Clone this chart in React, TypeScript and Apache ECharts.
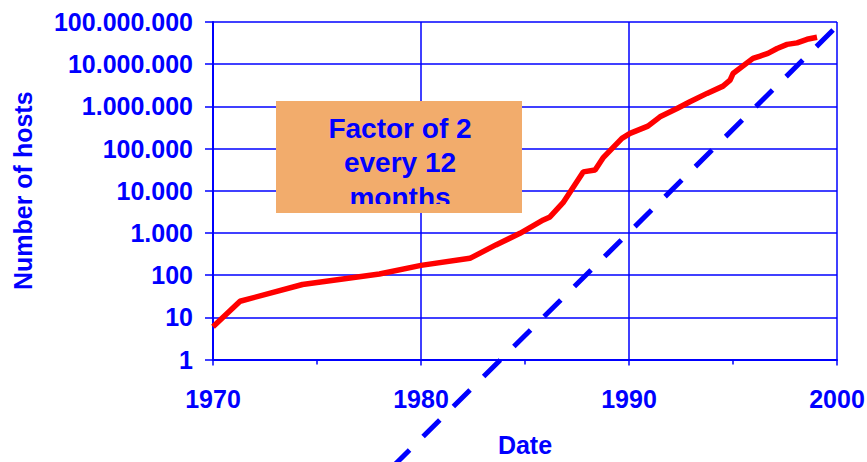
import React, { useEffect, useRef } from "react";
import * as echarts from "echarts";

// Internet host count (red line)
const hostYears = [1970.0, 1971.3, 1974.3, 1978.0, 1980.0, 1982.35, 1983.6, 1984.76, 1985.88, 1986.2, 1986.83, 1987.8, 1988.37, 1988.75, 1989.66, 1990.05, 1990.91, 1991.49, 1992.31, 1992.93, 1993.75, 1994.52, 1994.86, 1995.0, 1995.96, 1996.3, 1996.68, 1997.12, 1997.6, 1998.08, 1998.56, 1999.04];
const hostCounts = [6, 24, 60, 106, 170, 250, 520, 980, 2030, 2400, 5200, 28000, 31000, 60000, 174000, 229000, 340000, 565000, 890000, 1290000, 2030000, 3020000, 4200000, 6000000, 13700000, 15600000, 18100000, 23600000, 29500000, 32000000, 38900000, 43600000];

// Dashed trend line (top end first, extends below the axis)
const trendYears = [1999.81, 1978.55];
const trendValues = [64300000, 0.0026];

const yTickValues = [1, 10, 100, 1000, 10000, 100000, 1000000, 10000000, 100000000];
const xTickLabels = ["1970", "1980", "1990", "2000"];

const boxLines = ["Factor of 2", "every 12", "months"];

const BLUE = "#0000ff";
const FONT = "'Liberation Sans', Arial, sans-serif";

function fmtDots(v: number): string {
  const n = Math.round(v);
  return String(n).replace(/\B(?=(\d{3})+(?!\d))/g, ".");
}

export default function App() {
  const ref = useRef<HTMLDivElement>(null);
  useEffect(() => {
    if (!ref.current) return;
    const chart = echarts.init(ref.current, undefined, { renderer: "svg" });
    const hostData = hostYears.map((y, i) => [y, hostCounts[i]]);
    const trendData = trendYears.map((y, i) => [y, trendValues[i]]);
    const lineY = [128, 162.5, 197];
    chart.setOption({
      animation: false,
      backgroundColor: "#ffffff",
      textStyle: { fontFamily: FONT },
      grid: { left: 213, right: 30, top: 22, bottom: 102.5, containLabel: false, outerBoundsMode: "none" },
      xAxis: {
        type: "value",
        min: 1970,
        max: 2000,
        interval: 10,
        name: "Date",
        nameLocation: "middle",
        nameGap: 73,
        nameTextStyle: { color: BLUE, fontSize: 25, fontWeight: "bold", fontFamily: FONT },
        axisLine: { show: true, onZero: false, lineStyle: { color: BLUE, width: 2 } },
        axisTick: { show: true, length: 6, lineStyle: { color: BLUE, width: 1.5 } },
        minorTick: { show: true, splitNumber: 2, length: 5, lineStyle: { color: BLUE, width: 1.5 } },
        axisLabel: {
          color: BLUE,
          fontSize: 25,
          fontWeight: "bold",
          fontFamily: FONT,
          margin: 27,
          formatter: (v: number) => {
            const s = String(Math.round(v));
            return xTickLabels.indexOf(s) >= 0 ? s : "";
          },
        },
        splitLine: { show: true, lineStyle: { color: BLUE, width: 1.5 } },
      },
      yAxis: {
        type: "log",
        logBase: 10,
        min: yTickValues[0],
        max: yTickValues[yTickValues.length - 1],
        name: "Number of hosts",
        nameLocation: "middle",
        nameRotate: 90,
        nameGap: 178,
        nameTextStyle: { color: BLUE, fontSize: 25, fontWeight: "bold", fontFamily: FONT },
        axisLine: { show: true, lineStyle: { color: BLUE, width: 2 } },
        axisTick: { show: true, length: 8, lineStyle: { color: BLUE, width: 1.5 } },
        minorTick: { show: false },
        axisLabel: {
          color: BLUE,
          fontSize: 25,
          fontWeight: "bold",
          fontFamily: FONT,
          margin: 20,
          formatter: (v: number) => fmtDots(v),
        },
        splitLine: { show: true, lineStyle: { color: BLUE, width: 1.5 } },
      },
      series: [
        {
          type: "line",
          data: hostData,
          symbol: "none",
          lineStyle: { color: "#ff0000", width: 5.5 },
          z: 3,
        },
        {
          type: "line",
          data: trendData,
          symbol: "none",
          clip: false,
          lineStyle: { color: BLUE, width: 5, type: [23.5, 19.1], cap: "butt" },
          z: 4,
        },
      ],
      graphic: [
        {
          type: "rect",
          shape: { x: 276, y: 101, width: 246, height: 112 },
          style: { fill: "#F2AC6C" },
          z: 100,
        },
        ...boxLines.map((t, i) => ({
          type: "text",
          x: 400,
          y: lineY[i],
          z: 101,
          style: {
            text: t,
            fill: BLUE,
            font: `bold 28px ${FONT}`,
            textAlign: "center",
            textVerticalAlign: "middle",
          },
        })),
        {
          type: "rect",
          shape: { x: 276, y: 204, width: 246, height: 9 },
          style: { fill: "#F2AC6C" },
          z: 102,
        },
      ],
    });
    return () => chart.dispose();
  }, []);
  return (
    <div
      ref={ref}
      style={{ position: "fixed", left: 0, top: 0, width: 867, height: 462, background: "#fff" }}
    />
  );
}
